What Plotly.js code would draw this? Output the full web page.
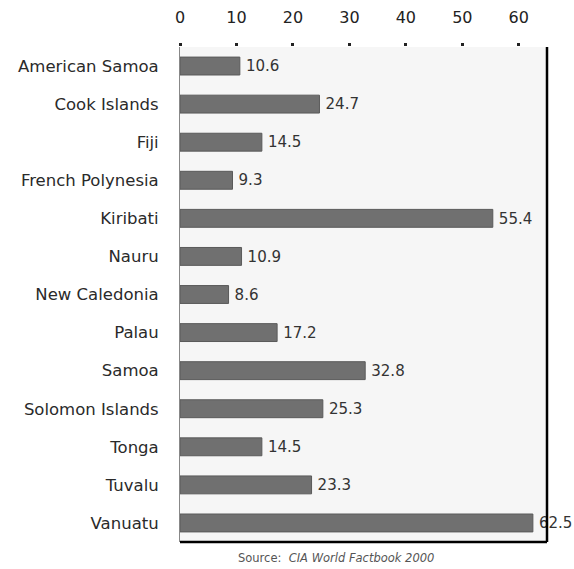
<!DOCTYPE html>
<html>
<head>
<meta charset="utf-8">
<script src="https://cdn.plot.ly/plotly-3.0.1.min.js"></script>
<style>html,body{margin:0;padding:0;background:#fff;}#chart{width:574px;height:569px;}</style>
</head>
<body>
<div id="chart"></div>
<script>
var countries = ["American Samoa","Cook Islands","Fiji","French Polynesia","Kiribati","Nauru","New Caledonia","Palau","Samoa","Solomon Islands","Tonga","Tuvalu","Vanuatu"];
var values = [10.6,24.7,14.5,9.3,55.4,10.9,8.6,17.2,32.8,25.3,14.5,23.3,62.5];
var tickVals = [0,10,20,30,40,50,60];
var sourceLabel = "Source:";
var sourceName = "CIA World Factbook 2000";

var FONT = "DejaVu Sans, Liberation Sans, Arial, sans-serif";

var trace = {
  type: "bar",
  orientation: "h",
  y: countries,
  x: values,
  width: 0.47,
  marker: {color: "#707070", line: {color: "#5a5a5a", width: 1}},
  text: values.map(function(v){return "\u2009" + v.toFixed(1);}),
  textposition: "outside",
  cliponaxis: false,
  textfont: {family: FONT, size: 16, color: "#333333"},
  hoverinfo: "none"
};

var layout = {
  width: 574, height: 569,
  margin: {l: 180, r: 27, t: 47, b: 27},
  paper_bgcolor: "#ffffff",
  plot_bgcolor: "#f6f6f6",
  showlegend: false,
  font: {family: FONT, size: 16, color: "#222222"},
  xaxis: {
    side: "top",
    range: [0, 65],
    tickvals: tickVals,
    ticktext: tickVals.map(String),
    showgrid: false,
    zeroline: false,
    showline: false,
    ticks: "outside",
    ticklen: 3,
    tickwidth: 3,
    tickcolor: "#222222",
    tickfont: {family: FONT, size: 16, color: "#222222"},
    ticklabelstandoff: 14
  },
  yaxis: {
    autorange: "reversed",
    showgrid: false,
    zeroline: false,
    showline: true,
    linecolor: "#888888",
    linewidth: 1,
    ticks: "",
    ticklabelstandoff: 17,
    tickfont: {family: FONT, size: 16.5, color: "#2a2a2a"}
  },
  shapes: [
    {type: "line", xref: "paper", yref: "paper", x0: 1, x1: 1, y0: 0, y1: 1, line: {color: "#000000", width: 2.5}},
    {type: "line", xref: "paper", yref: "paper", x0: 0, x1: 1, y0: 0, y1: 0, line: {color: "#000000", width: 2.5}}
  ],
  annotations: [
    {text: sourceLabel + "  <i>" + sourceName + "</i>", xref: "paper", yref: "paper", x: 0.425, y: 0, yshift: -16, showarrow: false,
     font: {family: FONT, size: 11.5, color: "#555555"}, xanchor: "center", yanchor: "middle"}
  ]
};

Plotly.newPlot("chart", [trace], layout, {displayModeBar: false, staticPlot: true});
</script>
</body>
</html>
